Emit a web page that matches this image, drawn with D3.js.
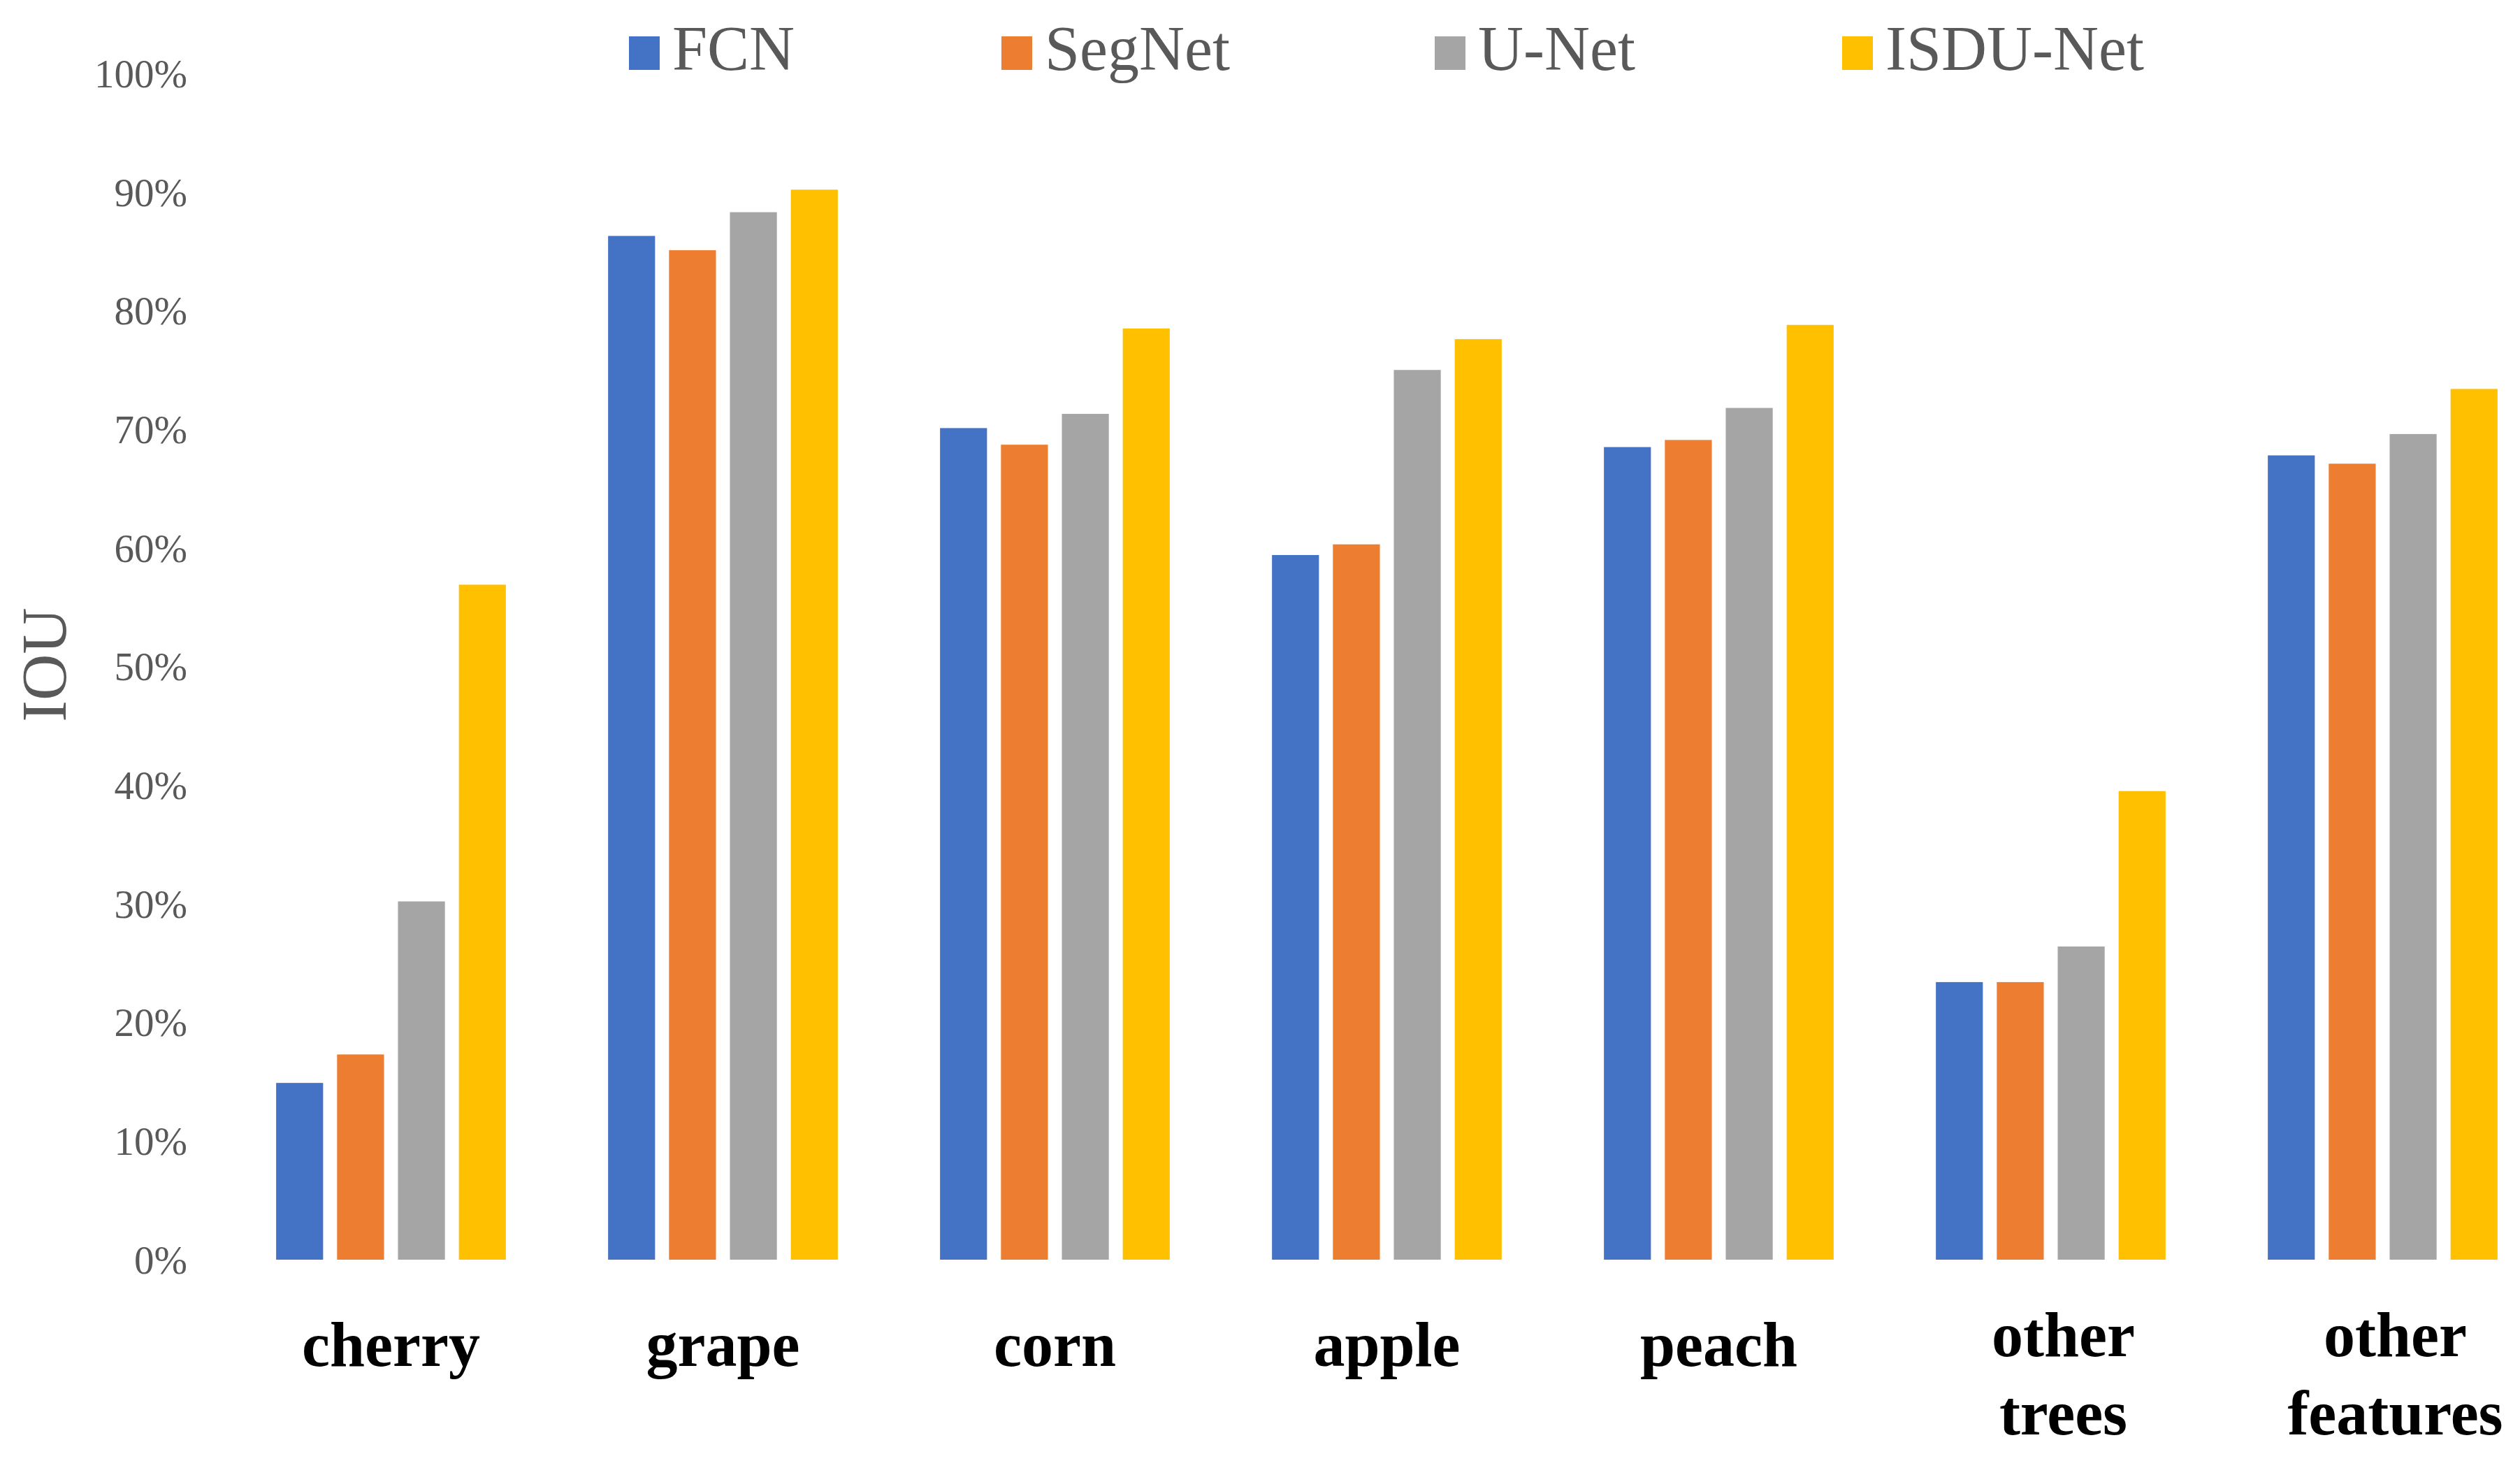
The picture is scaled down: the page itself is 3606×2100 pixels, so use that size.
<!DOCTYPE html>
<html>
<head>
<meta charset="utf-8">
<script src="https://d3js.org/d3.v7.min.js"></script>
<style>
  body { margin: 0; background: #fff; }
  text { font-family: "Liberation Serif", "Times New Roman", serif; }
</style>
</head>
<body>
<script>
// chart data
const categories = ["cherry", "grape", "corn", "apple", "peach", "other trees", "other features"];
const seriesNames = ["FCN", "SegNet", "U-Net", "ISDU-Net"];
const fcn = [14.9, 86.3, 70.1, 59.4, 68.5, 23.4, 67.8];
const segnet = [17.3, 85.1, 68.7, 60.3, 69.1, 23.4, 67.1];
const unet = [30.2, 88.3, 71.3, 75.0, 71.8, 26.4, 69.6];
const isdunet = [56.9, 90.2, 78.5, 77.6, 78.8, 39.5, 73.4];
const yTicks = [0, 10, 20, 30, 40, 50, 60, 70, 80, 90, 100];
const colors = ["#4472C4", "#ED7D31", "#A5A5A5", "#FFC000"];

const series = [fcn, segnet, unet, isdunet];

const width = 3606;
const height = 2100;

// plot area (the right side runs off the picture, as in the original)
const plotLeft = 322;
const plotRight = 3647;
const plotTop = 105;
const plotBottom = 1802;

const svg = d3.select("body").append("svg")
  .attr("width", width)
  .attr("height", height)
  .style("display", "block");

svg.append("rect").attr("width", width).attr("height", height).attr("fill", "#fff");

const x0 = d3.scaleBand()
  .domain(categories)
  .range([plotLeft, plotRight])
  .paddingInner(0.308)
  .paddingOuter(0.154);

const x1 = d3.scaleBand()
  .domain(d3.range(series.length))
  .range([0, x0.bandwidth()])
  .paddingInner(0.229);

const y = d3.scaleLinear()
  .domain([0, 100])
  .range([plotBottom, plotTop]);

// bars
const groups = svg.append("g")
  .selectAll("g")
  .data(categories)
  .join("g")
  .attr("transform", d => `translate(${x0(d)},0)`);

groups.selectAll("rect")
  .data((d, i) => series.map((s, j) => ({ j: j, v: s[i] })))
  .join("rect")
  .attr("x", d => x1(d.j))
  .attr("width", x1.bandwidth())
  .attr("y", d => y(d.v))
  .attr("height", d => y(0) - y(d.v))
  .attr("fill", d => colors[d.j]);

// y axis
const yAxis = svg.append("g")
  .attr("transform", "translate(268,0)")
  .call(d3.axisLeft(y).tickValues(yTicks).tickSize(0).tickPadding(0)
    .tickFormat(d => d + "%"));
yAxis.select(".domain").remove();
yAxis.selectAll("text")
  .attr("dy", "0.34em")
  .attr("fill", "#595959")
  .style("font-size", "57px")
  .style("font-family", "'Liberation Serif', 'Times New Roman', serif");

// x axis, two-word names go on two lines
const xAxis = svg.append("g")
  .attr("transform", `translate(0,${plotBottom})`)
  .call(d3.axisBottom(x0).tickSize(0));
xAxis.select(".domain").remove();
xAxis.selectAll("text").each(function (d) {
  const t = d3.select(this);
  const words = d.split(" ");
  t.text(null)
    .attr("dy", null)
    .attr("y", null)
    .attr("fill", "#000")
    .style("font-size", "90px")
    .style("font-weight", "bold")
    .style("font-family", "'Liberation Serif', 'Times New Roman', serif");
  if (words.length === 1) {
    t.append("tspan").attr("x", 0).attr("y", 152).text(d);
  } else {
    words.forEach((w, k) => {
      t.append("tspan").attr("x", 18).attr("y", 138 + k * 112).text(w);
    });
  }
});

// y axis title
svg.append("text")
  .attr("transform", "translate(94,951) rotate(-90)")
  .attr("text-anchor", "middle")
  .attr("fill", "#595959")
  .style("font-size", "92px")
  .text("IOU");

// legend
const legendX = [900, 1433, 2053, 2636];
const legend = svg.append("g")
  .selectAll("g")
  .data(seriesNames)
  .join("g")
  .attr("transform", (d, i) => `translate(${legendX[i]},0)`);

legend.append("rect")
  .attr("x", 0)
  .attr("y", 52)
  .attr("width", 44)
  .attr("height", 48)
  .attr("fill", (d, i) => colors[i]);

legend.append("text")
  .attr("x", 62)
  .attr("y", 100)
  .attr("fill", "#595959")
  .style("font-size", "90px")
  .text(d => d);
</script>
</body>
</html>
